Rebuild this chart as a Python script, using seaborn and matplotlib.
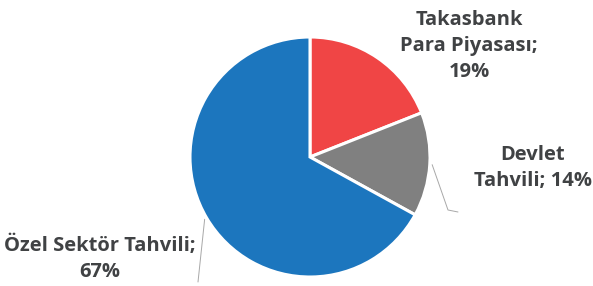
import matplotlib
matplotlib.use("Agg")
import matplotlib.pyplot as plt
import seaborn as sns
import numpy as np

labels = ["Takasbank\nPara Piyasası;\n19%", "Devlet\nTahvili; 14%", "Özel Sektör Tahvili;\n67%"]
shares = [19, 14, 67]
colors = ["#F04545", "#808080", "#1C76BE"]

sns.set_theme(style="white")
plt.rcParams["font.family"] = ["Open Sans", "DejaVu Sans"]

fig = plt.figure(figsize=(5.93, 2.86), dpi=100)
ax = fig.add_axes([0, 0, 1, 1])
ax.axis("off")

cx, cy, r = 310, 129, 120
wedges, _ = ax.pie(shares, colors=colors, startangle=90, counterclock=False,
                   center=(cx, cy), radius=r,
                   wedgeprops=dict(edgecolor="white", linewidth=2.2))
ax.set_xlim(0, 593)
ax.set_ylim(0, 286)
ax.set_aspect("equal")

txt = dict(fontsize=14.5, fontweight="bold", color="#404244",
           ha="center", va="center", linespacing=1.38)
ax.text(469, 240, labels[0], **txt)
ax.text(533, 118, labels[1], **txt)
ax.text(100, 27, labels[2], **txt)

# leader lines from wedge midpoints
def mid(w, k=1.02):
    a = np.deg2rad((w.theta1 + w.theta2) / 2)
    return cx + k * r * np.cos(a), cy + k * r * np.sin(a)

x0, y0 = mid(wedges[1])
ax.plot([x0, 448, 458], [y0, 76, 74], color="#A8A8A8", lw=0.7)
x0, y0 = mid(wedges[2])
ax.plot([x0, 198], [y0, 4], color="#A8A8A8", lw=0.7)

fig.savefig("out.png", dpi=100)
